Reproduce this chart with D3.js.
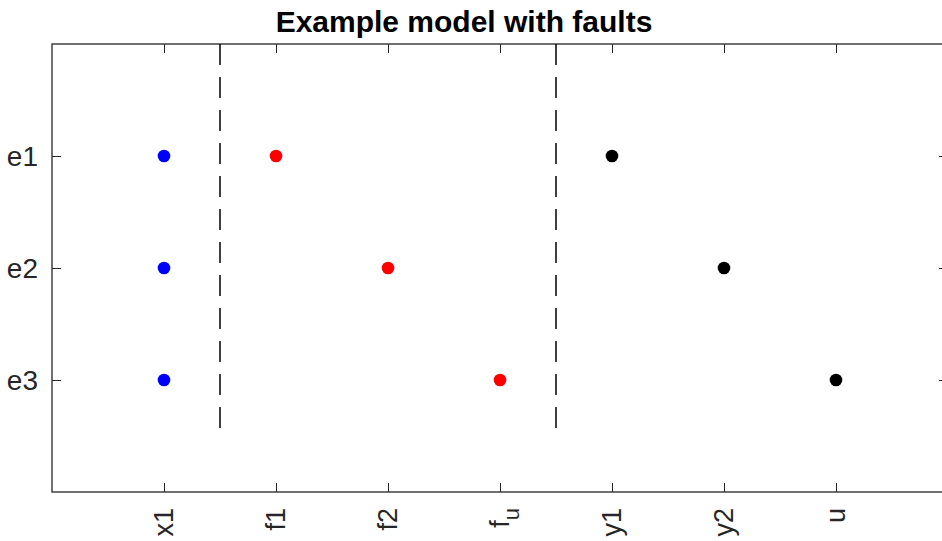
<!DOCTYPE html>
<html>
<head>
<meta charset="utf-8">
<script src="https://cdn.jsdelivr.net/npm/d3@7"></script>
<style>
  html, body { margin: 0; padding: 0; background: #fff; }
  svg { display: block; font-family: "Liberation Sans", Arial, Helvetica, sans-serif; }
</style>
</head>
<body>
<svg id="chart" width="942" height="541"></svg>
<script>
// Columns (variables) and rows (equations) of the structural model
const variables = ["x1", "f1", "f2", "f_u", "y1", "y2", "u"];
const equations = ["e1", "e2", "e3"];

// Nonzero entries per group: [variable index, equation index] (1-based)
const unknownEntries = [[1, 1], [1, 2], [1, 3]];
const faultEntries   = [[2, 1], [3, 2], [4, 3]];
const knownEntries   = [[5, 1], [6, 2], [7, 3]];

// Vertical separators between the variable groups
const separators = [1.5, 4.5];

const width = 942, height = 541;
const plotLeft = 52, plotTop = 44, plotBottom = 492, plotRight = 948;

const svg = d3.select("#chart");
svg.append("rect").attr("width", width).attr("height", height).attr("fill", "#fff");

const x = d3.scaleLinear().domain([0, variables.length + 1]).range([plotLeft, plotRight]);
const y = d3.scaleLinear().domain([0, equations.length + 1]).range([plotTop, plotBottom]);

const axisColor = "#262626";
const tickIdx = d3.range(1, variables.length + 1);
const rowIdx = d3.range(1, equations.length + 1);

// Axes with inward ticks on all four sides
function styleAxis(g) {
  g.select(".domain").remove();
  g.selectAll(".tick line").attr("stroke", axisColor).attr("stroke-width", 1);
  g.selectAll(".tick text").remove();
}
svg.append("g").attr("transform", `translate(0,${plotBottom})`)
  .call(d3.axisBottom(x).tickValues(tickIdx).tickSize(-9)).call(styleAxis);
svg.append("g").attr("transform", `translate(0,${plotTop})`)
  .call(d3.axisTop(x).tickValues(tickIdx).tickSize(-9)).call(styleAxis);
svg.append("g").attr("transform", `translate(${plotLeft},0)`)
  .call(d3.axisLeft(y).tickValues(rowIdx).tickSize(-9)).call(styleAxis);
svg.append("g").attr("transform", `translate(${plotRight},0)`)
  .call(d3.axisRight(y).tickValues(rowIdx).tickSize(-9)).call(styleAxis);

// Box
svg.append("rect")
  .attr("x", plotLeft).attr("y", plotTop)
  .attr("width", plotRight - plotLeft).attr("height", plotBottom - plotTop)
  .attr("fill", "none").attr("stroke", axisColor).attr("stroke-width", 1.3);

// Row labels
svg.append("g").selectAll("text").data(equations).join("text")
  .attr("x", plotLeft - 14)
  .attr("y", (d, i) => y(i + 1))
  .attr("dy", "0.35em")
  .attr("text-anchor", "end")
  .attr("font-size", 28)
  .attr("fill", "#262626")
  .text(d => d);

// Column labels, rotated
const colLabels = svg.append("g").selectAll("text").data(variables).join("text")
  .attr("transform", (d, i) => `translate(${x(i + 1)},${plotBottom + 16}) rotate(-90)`)
  .attr("dy", "0.35em")
  .attr("text-anchor", "end")
  .attr("font-size", 27)
  .attr("fill", "#262626");
colLabels.each(function(d) {
  const t = d3.select(this);
  const parts = d.split("_");
  t.append("tspan").text(parts[0]);
  if (parts.length > 1) {
    t.append("tspan").attr("dy", "0.45em").attr("font-size", 22).text(parts[1]);
  }
});

// Group separators
svg.append("g").selectAll("line").data(separators).join("line")
  .attr("x1", d => x(d)).attr("x2", d => x(d))
  .attr("y1", y(0)).attr("y2", y(3.5))
  .attr("stroke", "#000").attr("stroke-width", 1.5)
  .attr("stroke-dasharray", "21,12");

// Entries
const groups = [
  { data: unknownEntries, color: "#0000ff" },
  { data: faultEntries, color: "#ff0000" },
  { data: knownEntries, color: "#000000" }
];
groups.forEach(gp => {
  svg.append("g").selectAll("circle").data(gp.data).join("circle")
    .attr("cx", d => x(d[0]))
    .attr("cy", d => y(d[1]))
    .attr("r", 6.3)
    .attr("fill", gp.color);
});

// Title
svg.append("text")
  .attr("x", 464).attr("y", 32)
  .attr("text-anchor", "middle")
  .attr("font-size", 30)
  .attr("font-weight", "bold")
  .attr("fill", "#000")
  .text("Example model with faults");
</script>
</body>
</html>
